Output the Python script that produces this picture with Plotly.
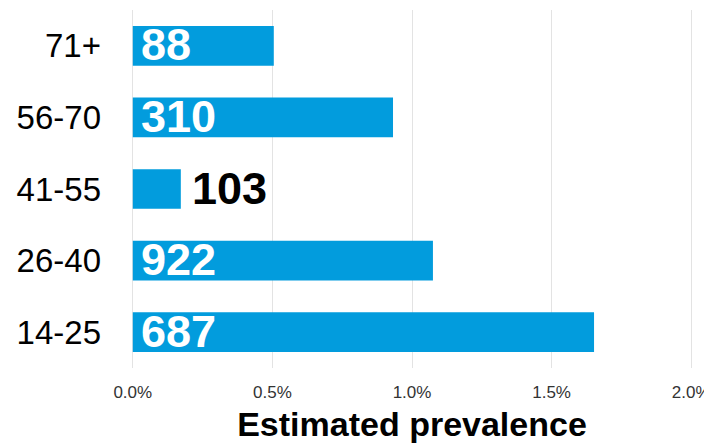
import plotly.graph_objects as go

age_groups = ["14-25", "26-40", "41-55", "56-70", "71+"]
prevalence_pct = [1.652, 1.075, 0.172, 0.932, 0.505]
case_counts = [687, 922, 103, 310, 88]
x_ticks = [0.0, 0.5, 1.0, 1.5, 2.0]
x_tick_labels = [f"{v:.1f}%" for v in x_ticks]

BAR_COLOR = "#029CDD"
FONT = "Liberation Sans"
INSIDE_MIN = 0.3  # bars narrower than this get their label outside

fig = go.Figure(
    go.Bar(
        x=prevalence_pct,
        y=age_groups,
        orientation="h",
        marker=dict(color=BAR_COLOR, line=dict(width=0)),
        width=0.555,
        hoverinfo="skip",
    )
)

annotations = []
for g, p, n in zip(age_groups, prevalence_pct, case_counts):
    inside = p >= INSIDE_MIN
    annotations.append(
        dict(
            x=0 if inside else p,
            y=g,
            xref="x",
            yref="y",
            text=f"<b>{n}</b>",
            showarrow=False,
            xanchor="left",
            yanchor="middle",
            xshift=6 if inside else 9,
            yshift=1,
            font=dict(family=FONT, size=45, color="white" if inside else "black"),
        )
    )

# page body has an 8px default margin, so the figure is sized to fit the window
fig.update_layout(
    width=704,
    height=435,
    margin=dict(l=122, r=18, t=2, b=75),
    paper_bgcolor="white",
    plot_bgcolor="white",
    showlegend=False,
    annotations=annotations,
    font=dict(family=FONT),
    xaxis=dict(
        range=[-0.01, 2.01],
        tickvals=x_ticks,
        ticktext=x_tick_labels,
        showgrid=True,
        gridcolor="#E3E3E3",
        gridwidth=1,
        zeroline=False,
        showline=False,
        ticks="",
        automargin=False,
        tickfont=dict(family=FONT, size=17, color="#333333"),
        ticklabelstandoff=12,
        title=dict(
            text="<b>Estimated prevalence</b>",
            font=dict(family=FONT, size=34, color="black"),
            standoff=18,
        ),
    ),
    yaxis=dict(
        categoryorder="array",
        categoryarray=age_groups,
        range=[-0.5, 4.5],
        showgrid=False,
        zeroline=False,
        showline=False,
        ticks="",
        automargin=False,
        tickfont=dict(family=FONT, size=33, color="black"),
        ticklabelstandoff=28,
    ),
)

fig.write_html("out.html")
